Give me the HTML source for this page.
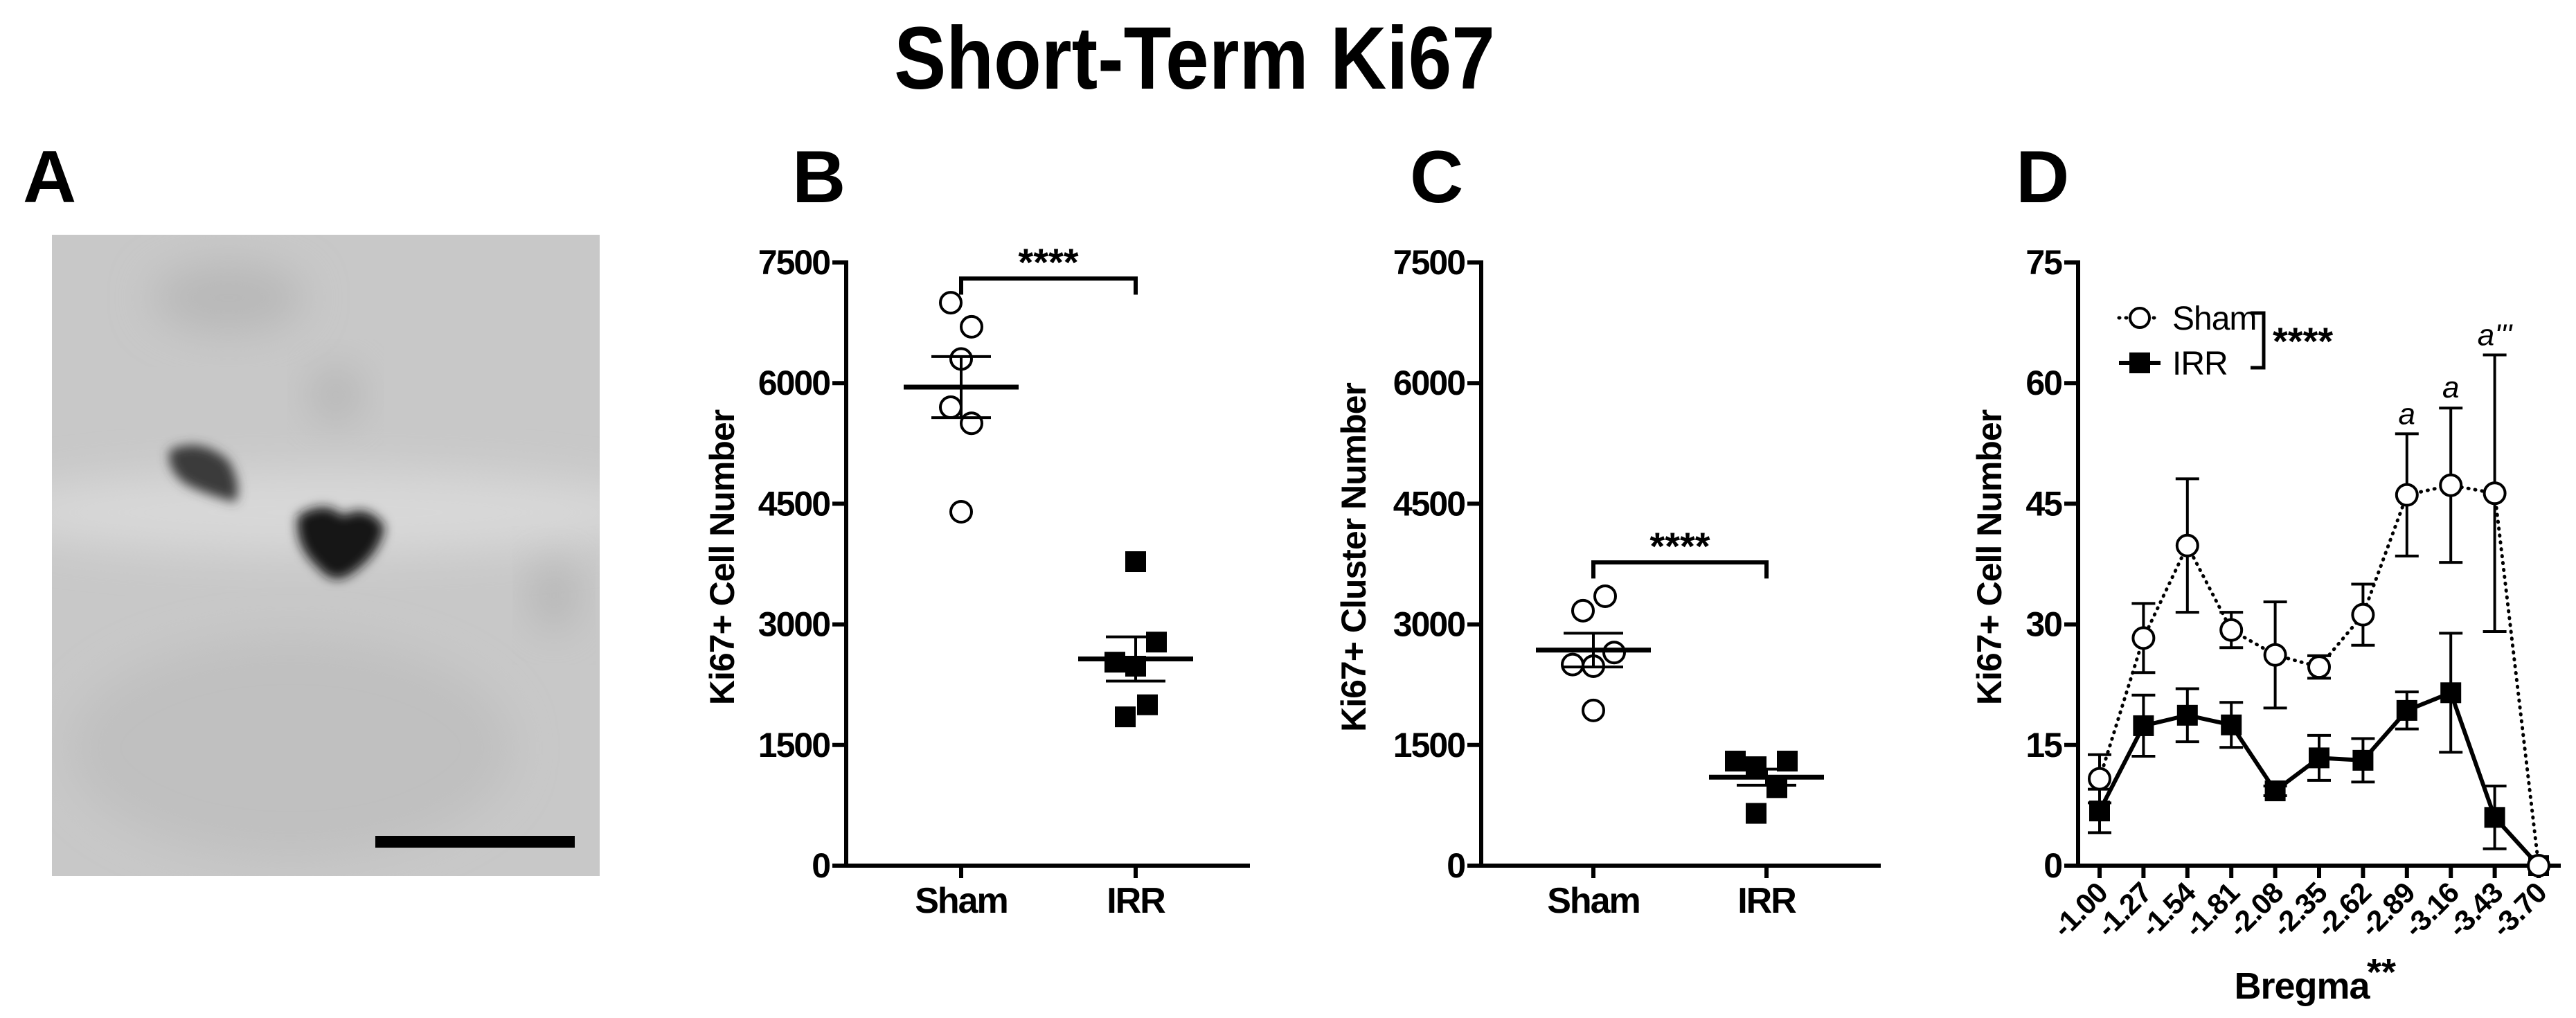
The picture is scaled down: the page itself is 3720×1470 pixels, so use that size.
<!DOCTYPE html>
<html><head><meta charset="utf-8"><style>
html,body{margin:0;padding:0;background:#fff;}
svg{display:block;font-family:"Liberation Sans",Arial,sans-serif;}
</style></head><body>
<svg id="fig" width="3720" height="1470" viewBox="0 0 3720 1470" xmlns="http://www.w3.org/2000/svg">
<defs>
<filter id="blur30" x="-50%" y="-50%" width="200%" height="200%"><feGaussianBlur stdDeviation="30"/></filter>
<filter id="blur10" x="-50%" y="-50%" width="200%" height="200%"><feGaussianBlur stdDeviation="8"/></filter>
<clipPath id="imgclip"><rect x="75" y="339" width="791" height="926"/></clipPath>
</defs>
<text x="1725" y="128" text-anchor="middle" font-size="128" font-weight="bold" transform="translate(1725 0) scale(0.88 1) translate(-1725 0)">Short-Term Ki67</text>
<text x="33" y="292" font-size="107" font-weight="bold">A</text>
<text x="1144" y="292" font-size="107" font-weight="bold">B</text>
<text x="2036" y="292" font-size="107" font-weight="bold">C</text>
<text x="2911" y="292" font-size="107" font-weight="bold">D</text>
<g clip-path="url(#imgclip)">
<rect x="75" y="339" width="791" height="926" fill="#c8c8c8"/>
<ellipse cx="470" cy="740" rx="500" ry="60" fill="#d8d8d8" filter="url(#blur30)"/>
<ellipse cx="330" cy="430" rx="110" ry="50" fill="#b8b8b8" filter="url(#blur30)"/>
<ellipse cx="420" cy="1080" rx="320" ry="160" fill="#c0c0c0" filter="url(#blur30)"/>
<ellipse cx="485" cy="570" rx="35" ry="40" fill="#b4b4b4" filter="url(#blur30)"/>
<ellipse cx="800" cy="860" rx="30" ry="50" fill="#b4b4b4" filter="url(#blur30)"/>
<path d="M245 650 Q290 630 330 665 Q350 700 340 725 Q300 715 270 700 Q240 680 245 650Z" fill="#3a3a3a" filter="url(#blur10)"/>
<path d="M430 745 Q470 720 495 745 Q530 725 555 760 Q550 800 505 830 Q480 845 460 820 Q425 790 430 745Z" fill="#151515" filter="url(#blur10)"/>
<rect x="542" y="1207" width="288" height="17" fill="#000"/>
</g>
<g id="chartB"></g><g id="chartC"></g><g id="chartD"></g>
</svg>
<script>
// ---- Panel B data ----
const bCategories = ["Sham", "IRR"];
const bSham = [7000, 6700, 6300, 5700, 5500, 4400];
const bIrr = [3780, 2780, 2530, 2480, 2000, 1850];
const bMeans = [5950, 2570];
const bSem = [380, 275];
const bTicks = [0, 1500, 3000, 4500, 6000, 7500];
const bJitterSham = [-15, 15, 0, -15, 15, 0];
const bJitterIrr = [0, 30, -30, 0, 17, -15];
// ---- Panel C data ----
const cCategories = ["Sham", "IRR"];
const cSham = [3350, 3170, 2650, 2500, 2480, 1930];
const cIrr = [1300, 1230, 1300, 970, 650];
const cMeans = [2680, 1100];
const cSem = [210, 100];
const cTicks = [0, 1500, 3000, 4500, 6000, 7500];
const cJitterSham = [17, -15, 30, -30, 0, 0];
const cJitterIrr = [-45, -15, 30, 15, -15];
// ---- Panel D data ----
const dCategories = ["-1.00","-1.27","-1.54","-1.81","-2.08","-2.35","-2.62","-2.89","-3.16","-3.43","-3.70"];
const dSham = [10.8, 28.3, 39.8, 29.3, 26.2, 24.7, 31.2, 46.1, 47.3, 46.3, 0];
const dShamErr = [3.0, 4.3, 8.3, 2.2, 6.6, 1.4, 3.8, 7.6, 9.6, 17.2, 0];
const dIrr = [6.8, 17.4, 18.7, 17.5, 9.3, 13.4, 13.1, 19.3, 21.5, 6.0, 0];
const dIrrErr = [2.7, 3.8, 3.3, 2.8, 0.6, 2.8, 2.7, 2.3, 7.4, 3.9, 0];
const dTicks = [0, 15, 30, 45, 60, 75];
const dAnnot = [["a", 7, 53.7], ["a", 8, 57.0], ["a'''", 9, 63.5]];

const NS = "http://www.w3.org/2000/svg";
function mk(parent, tag, attrs, txt) {
  const e = document.createElementNS(NS, tag);
  for (const k in attrs) e.setAttribute(k, attrs[k]);
  if (txt !== undefined) e.textContent = txt;
  parent.appendChild(e);
  return e;
}
function line(p, x1, y1, x2, y2, w, extra) {
  const a = {x1, y1, x2, y2, stroke: "#000", "stroke-width": w};
  if (extra) for (const k in extra) a[k] = extra[k];
  return mk(p, "line", a);
}

function scatterPanel(gid, cfg) {
  const g = document.getElementById(gid);
  const x0 = cfg.axisX, yTop = 379, yBot = 1250, xEnd = cfg.xEnd;
  const ys = v => yBot - (v / 7500) * (yBot - yTop);
  const xs = i => cfg.catX[i];
  const ax = line(g, x0, yTop - 3, x0, yBot + 3, 6);
  
  
  const xa = line(g, x0 - 3, yBot, xEnd, yBot, 6);
  
  
  cfg.ticks.forEach(t => {
    line(g, x0 - 20, ys(t), x0, ys(t), 6);
    const tl = mk(g, "text", {x: x0 - 24, y: ys(t) + 17, "text-anchor": "end", "font-size": 50, "font-weight": "bold", "letter-spacing": "-2"}, String(t));
    
    
  });
  cfg.cats.forEach((c, i) => {
    line(g, xs(i), yBot, xs(i), yBot + 18, 6);
    const cl = mk(g, "text", {x: xs(i), y: 1318, "text-anchor": "middle", "font-size": 52, "font-weight": "bold", "letter-spacing": "-2"}, c);
    
    
  });
  const yt = mk(g, "text", {x: 0, y: 0, "text-anchor": "middle", "font-size": 50, "font-weight": "bold", "letter-spacing": "-1", transform: `translate(${cfg.titleX} 805) rotate(-90)`}, cfg.title);
  
  
  cfg.sham.forEach((v, i) => {
    const c = mk(g, "circle", {cx: xs(0) + cfg.jS[i], cy: ys(v), r: 15, fill: "#fff", stroke: "#000", "stroke-width": 4});
    
    
  });
  cfg.irr.forEach((v, i) => {
    const s = mk(g, "rect", {x: xs(1) + cfg.jI[i] - 15, y: ys(v) - 15, width: 30, height: 30, fill: "#000"});
    
    
  });
  cfg.means.forEach((m, i) => {
    const ml = line(g, xs(i) - 83, ys(m), xs(i) + 83, ys(m), 7);
    
    
    line(g, xs(i), ys(m + cfg.sem[i]), xs(i), ys(m - cfg.sem[i]), 4);
    line(g, xs(i) - 43, ys(m + cfg.sem[i]), xs(i) + 43, ys(m + cfg.sem[i]), 4);
    line(g, xs(i) - 43, ys(m - cfg.sem[i]), xs(i) + 43, ys(m - cfg.sem[i]), 4);
  });
  const by = ys(cfg.bracket), bd = ys(cfg.bracket - 200);
  const br = mk(g, "path", {d: `M${xs(0)} ${bd} V${by} H${xs(1)} V${bd}`, fill: "none", stroke: "#000", "stroke-width": 6});
  
  
  const st = mk(g, "text", {x: (xs(0) + xs(1)) / 2, y: by - 4, "text-anchor": "middle", "font-size": 56, "font-weight": "bold"}, "****");
  
  
}

scatterPanel("chartB", {axisX: 1222, xEnd: 1805, catX: [1388, 1640], cats: bCategories, ticks: bTicks,
  title: "Ki67+ Cell Number", titleX: 1060, sham: bSham, irr: bIrr, jS: bJitterSham, jI: bJitterIrr,
  means: bMeans, sem: bSem, bracket: 7300});
scatterPanel("chartC", {axisX: 2139, xEnd: 2716, catX: [2301, 2551], cats: cCategories, ticks: cTicks,
  title: "Ki67+ Cluster Number", titleX: 1972, sham: cSham, irr: cIrr, jS: cJitterSham, jI: cJitterIrr,
  means: cMeans, sem: cSem, bracket: 3770});

(function () {
  const g = document.getElementById("chartD");
  const x0 = 3001, yTop = 379, yBot = 1250, xEnd = 3698;
  const ys = v => yBot - (v / 75) * (yBot - yTop);
  const xs = i => 3032 + i * 63.4;
  const ax = line(g, x0, yTop - 3, x0, yBot + 3, 6);
  
  
  const xa = line(g, x0 - 3, yBot, xEnd, yBot, 6);
  
  
  dTicks.forEach(t => {
    line(g, x0 - 20, ys(t), x0, ys(t), 6);
    const tl = mk(g, "text", {x: x0 - 24, y: ys(t) + 17, "text-anchor": "end", "font-size": 50, "font-weight": "bold", "letter-spacing": "-2"}, String(t));
    
    
  });
  dCategories.forEach((c, i) => {
    line(g, xs(i), yBot, xs(i), yBot + 18, 6);
    const tl = mk(g, "text", {x: 0, y: 0, "text-anchor": "end", "font-size": 42, "font-weight": "bold", "letter-spacing": "-1", transform: `translate(${xs(i) + 14} 1292) rotate(-45)`}, c);
    
    
  });
  const yt = mk(g, "text", {x: 0, y: 0, "text-anchor": "middle", "font-size": 50, "font-weight": "bold", "letter-spacing": "-1", transform: `translate(2890 805) rotate(-90)`}, "Ki67+ Cell Number");
  
  
  const xt = mk(g, "text", {x: 3324, y: 1442, "text-anchor": "middle", "font-size": 54, "font-weight": "bold", "letter-spacing": "-1"}, "Bregma");
  
  
  const xs2 = mk(g, "text", {x: 3418, y: 1422, "font-size": 54, "font-weight": "bold"}, "**");
  
  
  const shamPts = dSham.map((v, i) => `${xs(i)},${ys(v)}`).join(" ");
  const irrPts = dIrr.map((v, i) => `${xs(i)},${ys(v)}`).join(" ");
  const sl = mk(g, "polyline", {points: shamPts, fill: "none", stroke: "#000", "stroke-width": 5, "stroke-dasharray": "1 9", "stroke-linecap": "round"});
  
  
  const il = mk(g, "polyline", {points: irrPts, fill: "none", stroke: "#000", "stroke-width": 6});
  
  
  function err(i, v, e) {
    if (e <= 0) return;
    line(g, xs(i), ys(v + e), xs(i), ys(v - e), 4);
    line(g, xs(i) - 17, ys(v + e), xs(i) + 17, ys(v + e), 4);
    line(g, xs(i) - 17, ys(v - e), xs(i) + 17, ys(v - e), 4);
  }
  dSham.forEach((v, i) => err(i, v, dShamErr[i]));
  dIrr.forEach((v, i) => err(i, v, dIrrErr[i]));
  dIrr.forEach((v, i) => {
    const s = mk(g, "rect", {x: xs(i) - 15, y: ys(v) - 15, width: 30, height: 30, fill: "#000"});
    
    
  });
  dSham.forEach((v, i) => {
    const c = mk(g, "circle", {cx: xs(i), cy: ys(v), r: 15, fill: "#fff", stroke: "#000", "stroke-width": 4});
    
    
  });
  dAnnot.forEach(a => {
    const t = mk(g, "text", {x: xs(a[1]), y: ys(a[2]) - 14, "text-anchor": "middle", "font-size": 44, "font-style": "italic"}, a[0]);
    
    
  });
  const lg = mk(g, "g", {});
  
  
  line(lg, 3060, 459, 3120, 459, 5, {"stroke-dasharray": "1 9", "stroke-linecap": "round"});
  mk(lg, "circle", {cx: 3090, cy: 459, r: 14, fill: "#fff", stroke: "#000", "stroke-width": 4});
  const l1 = mk(lg, "text", {x: 3137, y: 476, "font-size": 48, "letter-spacing": "-1"}, "Sham");
  
  
  line(lg, 3060, 524, 3120, 524, 6);
  mk(lg, "rect", {x: 3075, y: 509, width: 30, height: 30, fill: "#000"});
  const l2 = mk(lg, "text", {x: 3137, y: 541, "font-size": 48, "letter-spacing": "-1"}, "IRR");
  
  
  mk(lg, "path", {d: "M3250 452 H3269 V531 H3250", fill: "none", stroke: "#000", "stroke-width": 5});
  const ls = mk(lg, "text", {x: 3282, y: 512, "font-size": 56, "font-weight": "bold"}, "****");
  
  
})();
</script>
</body></html>
